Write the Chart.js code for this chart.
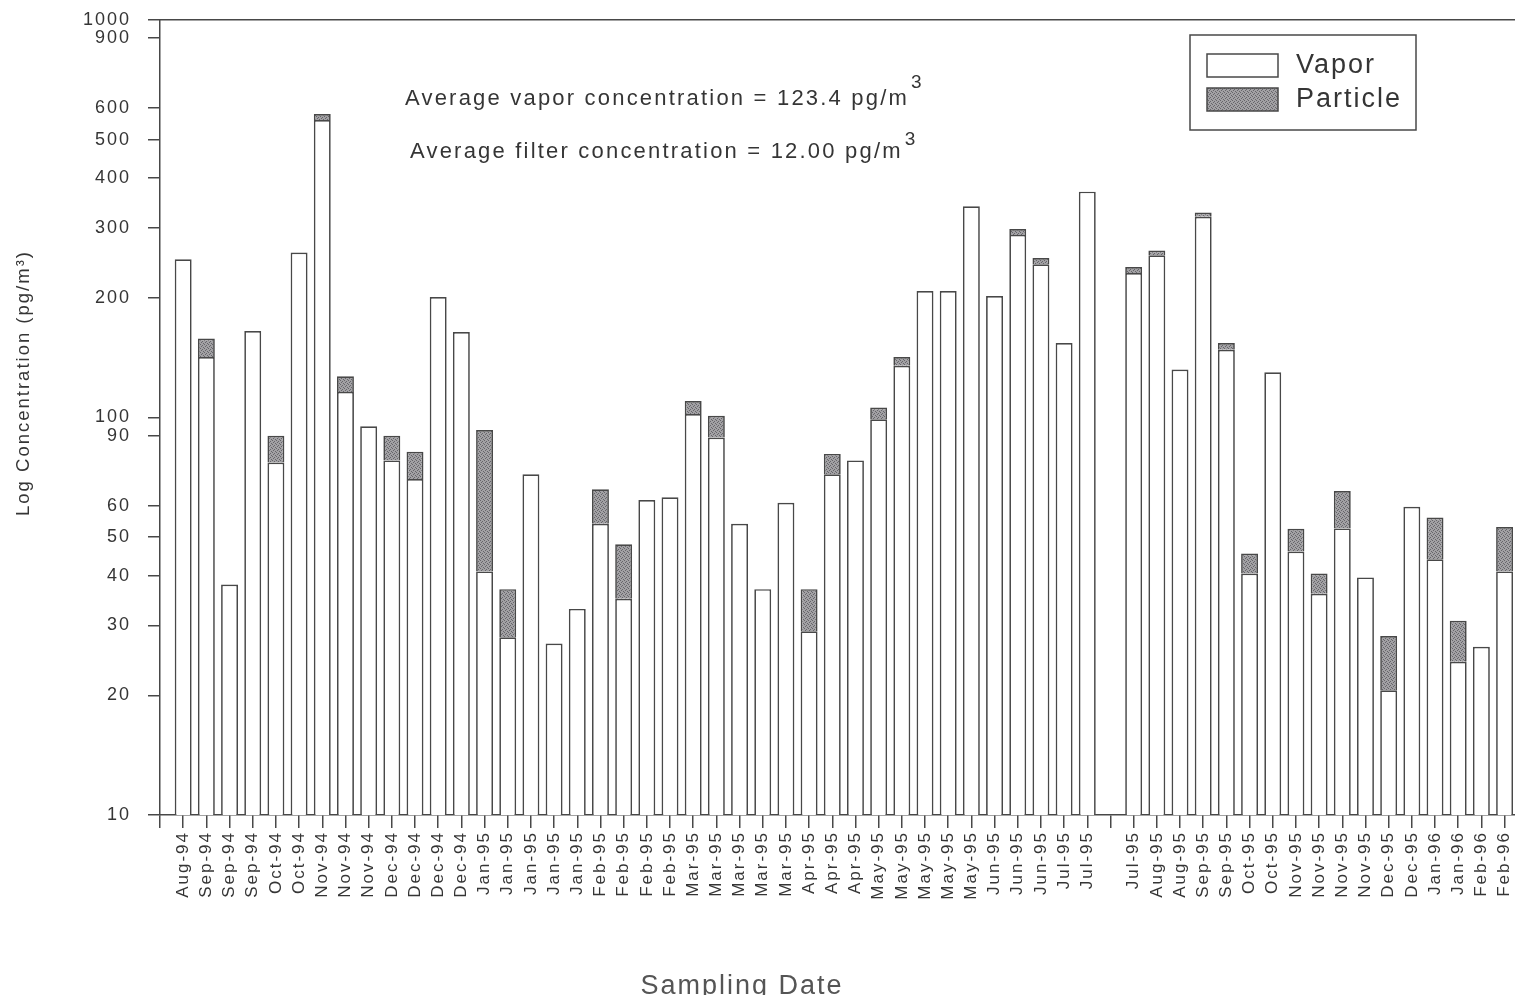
<!DOCTYPE html>
<html>
<head>
<meta charset="utf-8">
<title>Log Concentration by Sampling Date</title>
<script src="https://cdn.jsdelivr.net/npm/chart.js@4.4.1/dist/chart.umd.min.js"></script>
<style>
  html, body { margin: 0; padding: 0; background: #ffffff; }
  #wrap { width: 1515px; height: 995px; position: relative; }
</style>
</head>
<body>
<div id="wrap"><canvas id="c" width="1515" height="995"></canvas></div>
<script>
// Sampling dates, one per sample (blank slot = no sample)
const categories = [
  'Aug-94','Sep-94','Sep-94','Sep-94','Oct-94','Oct-94','Nov-94','Nov-94','Nov-94','Dec-94','Dec-94','Dec-94','Dec-94',
  'Jan-95','Jan-95','Jan-95','Jan-95','Jan-95','Feb-95','Feb-95','Feb-95','Feb-95','Mar-95','Mar-95','Mar-95','Mar-95','Mar-95',
  'Apr-95','Apr-95','Apr-95','May-95','May-95','May-95','May-95','May-95','Jun-95','Jun-95','Jun-95','Jul-95','Jul-95','','Jul-95',
  'Aug-95','Aug-95','Sep-95','Sep-95','Oct-95','Oct-95','Nov-95','Nov-95','Nov-95','Nov-95','Dec-95','Dec-95','Jan-96','Jan-96','Feb-96','Feb-96'
];

// Vapor-phase concentration (pg/m3)
const vapor = [
  250, 142, 38, 165, 77, 260, 560, 116, 95, 78, 70, 201, 164,
  41, 28, 72, 27, 33, 54, 35, 62, 63, 102, 89, 54, 37, 61,
  29, 72, 78, 99, 135, 208, 208, 340, 202, 288, 243, 154, 370, null, 231,
  256, 132, 320, 148, 40.5, 130, 46, 36, 52.6, 39.6, 20.6, 59.6, 44, 24.3, 26.5, 41
];

// Particle-phase (filter) concentration (pg/m3), stacked on top of vapor
const particle = [
  null, 16, null, null, 13, null, 20, 11, null, 12, 12, null, null,
  52, 9, null, null, null, 12, 13, null, null, 8, 12, null, null, null,
  8, 9, null, 7, 7, null, null, null, null, 10, 9, null, null, null, 8,
  7, null, 8, 6, 5, null, 6.5, 4.5, 12.7, null, 7.6, null, 12, 6.5, null, 12
];

// Labelled values on the log axis
const yTickValues = [10, 20, 30, 40, 50, 60, 90, 100, 200, 300, 400, 500, 600, 900, 1000];

const averageVapor = '123.4';
const averageFilter = '12.00';

const INK = '#353535';
const AXIS = '#484848';
const FONT = "'Liberation Sans', Arial, sans-serif";

const canvas = document.getElementById('c');

// Stippled grey fill for the particle segments
function stipplePattern() {
  const tile = document.createElement('canvas');
  tile.width = 4; tile.height = 4;
  const g = tile.getContext('2d');
  g.fillStyle = '#a2a1a4';
  g.fillRect(0, 0, 4, 4);
  g.fillStyle = '#66656a';
  [[0, 0], [2, 1], [1, 2], [3, 3]].forEach(([x, y]) => g.fillRect(x, y, 1, 1));
  return canvas.getContext('2d').createPattern(tile, 'repeat');
}

function toPoints(values) {
  const pts = [];
  values.forEach((v, i) => { if (v !== null) pts.push({ x: i, y: v }); });
  return pts;
}

// Wide letter spacing for all chart text
const textSpacing = {
  id: 'textSpacing',
  beforeLayout(chart) { chart.ctx.letterSpacing = '2px'; },
  beforeDraw(chart) { chart.ctx.letterSpacing = '2px'; }
};

function drawWithSup(ctx, text, sup, x, y, size, supSize, gap, rise) {
  ctx.save();
  ctx.letterSpacing = '2.2px';
  ctx.font = `${size}px ${FONT}`;
  ctx.textAlign = 'left';
  ctx.textBaseline = 'alphabetic';
  ctx.fillText(text, x, y);
  const w = ctx.measureText(text).width;
  ctx.font = `${supSize}px ${FONT}`;
  ctx.fillText(sup, x + w + gap, y - rise);
  ctx.restore();
}

// Averages, boxed legend and axis titles
const overlay = {
  id: 'overlay',
  afterDraw(chart) {
    const { ctx, chartArea: a } = chart;
    ctx.save();
    ctx.fillStyle = INK;

    drawWithSup(ctx, `Average vapor concentration = ${averageVapor} pg/m`, '3',
      a.left + 245, a.top + 85, 22, 19, 2, 17);
    drawWithSup(ctx, `Average filter concentration = ${averageFilter} pg/m`, '3',
      a.left + 250, a.top + 138, 22, 19, 2, 13);

    // legend box
    const lx = a.right - 325, ly = a.top + 15, lw = 226, lh = 95;
    ctx.strokeStyle = AXIS;
    ctx.lineWidth = 1.5;
    ctx.strokeRect(lx, ly, lw, lh);
    chart.data.datasets.forEach((ds, i) => {
      const sy = ly + 19 + i * 34;
      ctx.fillStyle = ds.backgroundColor;
      ctx.fillRect(lx + 17, sy, 71, 23);
      ctx.strokeStyle = ds.borderColor;
      ctx.lineWidth = 1.5;
      ctx.strokeRect(lx + 17, sy, 71, 23);
      ctx.fillStyle = INK;
      ctx.font = `27px ${FONT}`;
      ctx.textAlign = 'left';
      ctx.textBaseline = 'middle';
      ctx.fillText(ds.label, lx + 106, sy + 12);
    });

    // y axis title
    ctx.save();
    ctx.translate(24, 383);
    ctx.rotate(-Math.PI / 2);
    ctx.fillStyle = INK;
    ctx.font = `18.5px ${FONT}`;
    ctx.textAlign = 'center';
    ctx.textBaseline = 'middle';
    ctx.fillText('Log Concentration (pg/m\u00B3)', 0, 0);
    ctx.restore();

    // x axis title
    ctx.fillStyle = '#555555';
    ctx.font = `27px ${FONT}`;
    ctx.textAlign = 'center';
    ctx.textBaseline = 'alphabetic';
    ctx.fillText('Sampling Date', 742, 994);

    ctx.restore();
  }
};

const X_MIN = -1, X_MAX = 57.45;

new Chart(canvas, {
  type: 'bar',
  data: {
    datasets: [
      {
        label: 'Vapor',
        data: toPoints(vapor),
        backgroundColor: '#ffffff',
        borderColor: AXIS,
        borderWidth: 1.7
      },
      {
        label: 'Particle',
        data: toPoints(particle),
        backgroundColor: stipplePattern(),
        borderColor: AXIS,
        borderWidth: 1.7
      }
    ]
  },
  options: {
    responsive: false,
    animation: false,
    events: [],
    categoryPercentage: 1,
    barPercentage: 0.73,
    layout: { padding: { top: 20, right: 0, left: 0, bottom: 0 } },
    plugins: { legend: { display: false }, tooltip: { enabled: false }, title: { display: false } },
    scales: {
      x: {
        type: 'linear',
        stacked: true,
        min: X_MIN,
        max: X_MAX,
        offset: false,
        grid: { display: true, drawOnChartArea: false, drawTicks: true, tickLength: 13, color: AXIS, lineWidth: 1.5, offset: false },
        border: { display: true, color: AXIS, width: 1.5 },
        ticks: {
          autoSkip: false,
          maxRotation: 90,
          minRotation: 90,
          padding: 3,
          color: INK,
          font: { family: FONT, size: 17 },
          callback: (v) => categories[v] ?? ''
        },
        afterBuildTicks: (s) => { s.ticks = [-1, ...categories.map((_, i) => i)].map((v) => ({ value: v })); },
        afterFit: (s) => { s.height = 180; s.paddingLeft = 0; s.paddingRight = 0; }
      },
      xTop: {
        type: 'linear',
        position: 'top',
        min: X_MIN,
        max: X_MAX,
        grid: { display: false, drawTicks: false },
        ticks: { display: false },
        border: { display: true, color: AXIS, width: 1.5 },
        afterFit: (s) => { s.height = 0; s.paddingLeft = 0; s.paddingRight = 0; }
      },
      y: {
        type: 'logarithmic',
        stacked: true,
        min: 10,
        max: 1000,
        grid: { drawOnChartArea: false, drawTicks: true, tickLength: 12, color: AXIS, lineWidth: 1.5 },
        border: { display: true, color: AXIS, width: 1.5 },
        ticks: {
          padding: 17,
          color: INK,
          font: { family: FONT, size: 18 },
          callback: (v) => String(v)
        },
        afterBuildTicks: (s) => { s.ticks = yTickValues.map((v) => ({ value: v })); },
        afterFit: (s) => { s.width = 160; s.paddingTop = 0; s.paddingBottom = 0; }
      }
    }
  },
  plugins: [textSpacing, overlay]
});
</script>
</body>
</html>
